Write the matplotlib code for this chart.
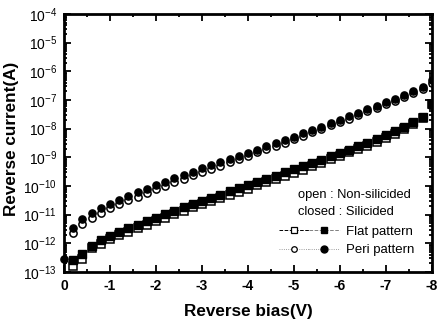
import matplotlib
matplotlib.use("Agg")
import matplotlib.pyplot as plt
from matplotlib.lines import Line2D
from matplotlib.legend_handler import HandlerTuple
from matplotlib.ticker import LogLocator, FixedLocator, MultipleLocator
import numpy as np

plt.rcParams['font.family'] = ['Liberation Sans', 'DejaVu Sans']
plt.rcParams['mathtext.fontset'] = 'custom'
plt.rcParams['mathtext.rm'] = 'Liberation Sans:bold'
plt.rcParams['mathtext.it'] = 'Liberation Sans:bold'

# reverse bias (V)
bias = [-0.2, -0.4, -0.6, -0.8, -1.0, -1.2, -1.4, -1.6, -1.8, -2.0,
        -2.2, -2.4, -2.6, -2.8, -3.0, -3.2, -3.4, -3.6, -3.8, -4.0,
        -4.2, -4.4, -4.6, -4.8, -5.0, -5.2, -5.4, -5.6, -5.8, -6.0,
        -6.2, -6.4, -6.6, -6.8, -7.0, -7.2, -7.4, -7.6, -7.8, -8.0]

# log10 of reverse current (A)
peri_closed = [-11.45, -11.15, -10.95, -10.78, -10.62, -10.48, -10.35, -10.22, -10.10, -9.98,
               -9.86, -9.74, -9.62, -9.50, -9.39, -9.28, -9.17, -9.06, -8.95, -8.84,
               -8.73, -8.62, -8.51, -8.40, -8.28, -8.16, -8.05, -7.93, -7.81, -7.69,
               -7.57, -7.45, -7.33, -7.21, -7.09, -6.97, -6.84, -6.70, -6.56, -6.30]
peri_open = [-11.64, -11.33, -11.12, -10.95, -10.78, -10.64, -10.50, -10.37, -10.25, -10.12,
             -10.00, -9.88, -9.75, -9.63, -9.52, -9.40, -9.29, -9.17, -9.06, -8.95,
             -8.83, -8.72, -8.60, -8.49, -8.37, -8.25, -8.13, -8.01, -7.89, -7.77,
             -7.65, -7.52, -7.40, -7.28, -7.15, -7.03, -6.90, -6.76, -6.62, -6.40]
flat_closed = [-12.58, -12.37, -12.10, -11.90, -11.75, -11.60, -11.47, -11.35, -11.23, -11.11,
               -10.99, -10.87, -10.75, -10.63, -10.52, -10.41, -10.30, -10.19, -10.08, -9.97,
               -9.86, -9.75, -9.64, -9.53, -9.42, -9.31, -9.20, -9.09, -8.97, -8.85,
               -8.73, -8.61, -8.49, -8.37, -8.24, -8.10, -7.95, -7.78, -7.58, -7.15]
flat_open = [-12.79, -12.55, -12.18, -12.02, -11.86, -11.72, -11.59, -11.47, -11.35, -11.23,
             -11.11, -10.99, -10.87, -10.75, -10.64, -10.53, -10.42, -10.31, -10.20, -10.09,
             -9.98, -9.87, -9.76, -9.65, -9.54, -9.43, -9.31, -9.19, -9.07, -8.95,
             -8.83, -8.71, -8.59, -8.46, -8.33, -8.19, -8.03, -7.85, -7.62, -7.15]
# extra zero-bias point of the silicided peri pattern
zero_bias = [0.0]
zero_peri_closed = [-12.55]

xtick_vals = [0, -1, -2, -3, -4, -5, -6, -7, -8]
xtick_labels = ['0', '-1', '-2', '-3', '-4', '-5', '-6', '-7', '-8']

fig = plt.figure(figsize=(4.38, 3.23), dpi=100)
ax = fig.add_axes([0.146, 0.158, 0.84, 0.799])

ms = 5.2
ax.plot(bias, 10 ** np.array(flat_open), 's', mfc='white', mec='black', mew=1.1, ms=ms, zorder=2)
ax.plot(bias, 10 ** np.array(flat_closed), 's', mfc='black', mec='black', ms=ms, zorder=3)
ax.plot(bias, 10 ** np.array(peri_open), 'o', mfc='white', mec='black', mew=1.1, ms=ms, zorder=2)
ax.plot(bias, 10 ** np.array(peri_closed), 'o', mfc='black', mec='black', ms=ms, zorder=3)
ax.plot(zero_bias, 10 ** np.array(zero_peri_closed), 'o', mfc='black', mec='black', ms=ms,
        zorder=3, clip_on=False)

ax.set_yscale('log')
ax.set_ylim(1e-13, 1e-4)
ax.set_xlim(0, -8)
ax.xaxis.set_major_locator(FixedLocator(xtick_vals))
ax.set_xticklabels(xtick_labels)
ax.xaxis.set_minor_locator(MultipleLocator(0.5))
ax.yaxis.set_major_locator(LogLocator(base=10, numticks=20))
ax.yaxis.set_minor_locator(LogLocator(base=10, subs=np.arange(2, 10), numticks=20))
ax.yaxis.set_minor_formatter(plt.NullFormatter())

ax.tick_params(which='both', direction='in', top=True, right=True, width=1.3)
ax.tick_params(which='major', length=5, labelsize=10, pad=5)
ax.tick_params(which='minor', length=2.5)
for lab in ax.get_xticklabels():
    lab.set_fontweight('bold')
for s in ax.spines.values():
    s.set_linewidth(2)

ax.set_xlabel('Reverse bias(V)', fontsize=12.3, fontweight='bold', labelpad=8)
ax.set_ylabel('Reverse current(A)', fontsize=12.3, fontweight='bold')
ax.yaxis.set_label_coords(-0.122, 0.515)

ax.text(0.636, 0.298, 'open : Non-silicided', transform=ax.transAxes,
        fontsize=9.3, va='center', ha='left')
ax.text(0.636, 0.232, 'closed : Silicided', transform=ax.transAxes,
        fontsize=9.3, va='center', ha='left')

h_flat = (Line2D([], [], ls='--', lw=0.7, color='black', marker='s', mfc='white', mec='black',
                 mew=0.9, ms=4),
          Line2D([], [], ls='--', lw=0.7, color='gray', marker='s', mfc='black', mec='black', ms=5))
h_peri = (Line2D([], [], ls=':', lw=0.6, color='gray', marker='o', mfc='white', mec='black',
                 mew=0.9, ms=4),
          Line2D([], [], ls=':', lw=0.6, color='gray', marker='o', mfc='black', mec='black', ms=5))
ax.legend([h_flat, h_peri], ['Flat pattern', 'Peri pattern'],
          handler_map={tuple: HandlerTuple(ndivide=None, pad=0.0)},
          loc='center right', bbox_to_anchor=(0.985, 0.12), frameon=False, fontsize=9.5,
          handlelength=4.6, handletextpad=0.5, labelspacing=0.45, numpoints=1)

fig.savefig('out.png', dpi=100)
